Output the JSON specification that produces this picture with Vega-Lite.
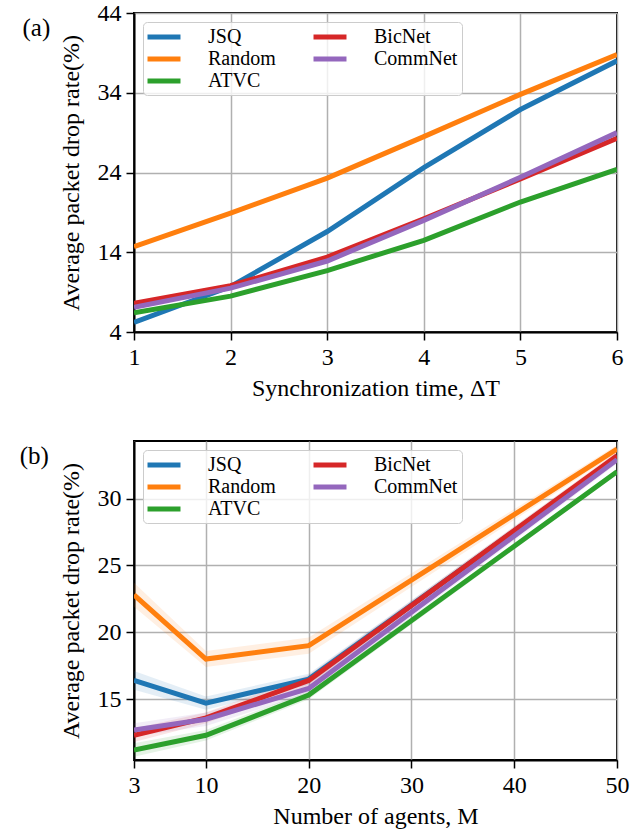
{
  "$schema": "https://vega.github.io/schema/vega-lite/v6.json",
  "padding": {"left": 18, "top": 0, "right": 5, "bottom": 5},
  "background": "white",
  "spacing": 39,
  "resolve": {"scale": {"color": "independent"}, "legend": {"color": "independent"}},
  "config": {
    "font": "Liberation Serif",
    "view": {"stroke": "black", "strokeWidth": 2},
    "axis": {
      "labelFont": "Liberation Serif", "labelFontSize": 24, "labelColor": "black",
      "titleFont": "Liberation Serif", "titleFontSize": 24, "titleFontWeight": "normal", "titleColor": "black",
      "tickColor": "black", "tickSize": 8, "tickWidth": 1.5,
      "domainColor": "black", "domainWidth": 2,
      "grid": true, "gridColor": "#b0b0b0", "gridWidth": 1.5,
      "labelPadding": 5, "labelFlush": false, "labelOverlap": false
    },
    "axisX": {"titlePadding": 7},
    "axisY": {"titlePadding": 14},
    "legend": {
      "orient": "top-left", "offset": 9, "columns": 2, "title": null,
      "labelFont": "Liberation Serif", "labelFontSize": 20, "labelColor": "black",
      "symbolType": "M-1.94,0H1.94", "symbolSize": 289, "symbolStrokeWidth": 5, "symbolOffset": 6,
      "fillColor": "rgba(255,255,255,0.8)", "strokeColor": "#cccccc", "cornerRadius": 4,
      "padding": 4, "rowPadding": 1, "columnPadding": 27, "labelOffset": 33
    },
    "title": {"font": "Liberation Serif", "fontSize": 25, "fontWeight": "normal", "color": "black"}
  },
  "datasets": {
    "a": [
      {"dt": 1, "series": "JSQ", "rate": 5.2}, {"dt": 2, "series": "JSQ", "rate": 9.7}, {"dt": 3, "series": "JSQ", "rate": 16.6}, {"dt": 4, "series": "JSQ", "rate": 24.6}, {"dt": 5, "series": "JSQ", "rate": 31.9}, {"dt": 6, "series": "JSQ", "rate": 38.0},
      {"dt": 1, "series": "Random", "rate": 14.7}, {"dt": 2, "series": "Random", "rate": 18.9}, {"dt": 3, "series": "Random", "rate": 23.3}, {"dt": 4, "series": "Random", "rate": 28.5}, {"dt": 5, "series": "Random", "rate": 33.8}, {"dt": 6, "series": "Random", "rate": 38.8},
      {"dt": 1, "series": "ATVC", "rate": 6.4}, {"dt": 2, "series": "ATVC", "rate": 8.5}, {"dt": 3, "series": "ATVC", "rate": 11.7}, {"dt": 4, "series": "ATVC", "rate": 15.5}, {"dt": 5, "series": "ATVC", "rate": 20.3}, {"dt": 6, "series": "ATVC", "rate": 24.4},
      {"dt": 1, "series": "BicNet", "rate": 7.6}, {"dt": 2, "series": "BicNet", "rate": 9.8}, {"dt": 3, "series": "BicNet", "rate": 13.4}, {"dt": 4, "series": "BicNet", "rate": 18.2}, {"dt": 5, "series": "BicNet", "rate": 23.2}, {"dt": 6, "series": "BicNet", "rate": 28.3},
      {"dt": 1, "series": "CommNet", "rate": 7.1}, {"dt": 2, "series": "CommNet", "rate": 9.5}, {"dt": 3, "series": "CommNet", "rate": 12.9}, {"dt": 4, "series": "CommNet", "rate": 18.0}, {"dt": 5, "series": "CommNet", "rate": 23.4}, {"dt": 6, "series": "CommNet", "rate": 29.0}
    ],
    "b": [
      {"M": 3, "series": "JSQ", "rate": 16.4, "lo": 15.7, "hi": 17.1}, {"M": 10, "series": "JSQ", "rate": 14.7, "lo": 14.2, "hi": 15.2}, {"M": 20, "series": "JSQ", "rate": 16.5, "lo": 16.1, "hi": 16.9}, {"M": 50, "series": "JSQ", "rate": 33.1, "lo": 32.8, "hi": 33.4},
      {"M": 3, "series": "Random", "rate": 22.8, "lo": 21.9, "hi": 23.7}, {"M": 10, "series": "Random", "rate": 18.0, "lo": 17.4, "hi": 18.6}, {"M": 20, "series": "Random", "rate": 19.0, "lo": 18.4, "hi": 19.6}, {"M": 50, "series": "Random", "rate": 33.7, "lo": 33.4, "hi": 34.0},
      {"M": 3, "series": "ATVC", "rate": 11.2, "lo": 10.7, "hi": 11.7}, {"M": 10, "series": "ATVC", "rate": 12.3, "lo": 11.9, "hi": 12.7}, {"M": 20, "series": "ATVC", "rate": 15.3, "lo": 15.0, "hi": 15.6}, {"M": 50, "series": "ATVC", "rate": 32.0, "lo": 31.8, "hi": 32.2},
      {"M": 3, "series": "BicNet", "rate": 12.3, "lo": 11.8, "hi": 12.8}, {"M": 10, "series": "BicNet", "rate": 13.6, "lo": 13.2, "hi": 14.0}, {"M": 20, "series": "BicNet", "rate": 16.4, "lo": 16.0, "hi": 16.8}, {"M": 50, "series": "BicNet", "rate": 33.2, "lo": 32.9, "hi": 33.5},
      {"M": 3, "series": "CommNet", "rate": 12.7, "lo": 12.2, "hi": 13.2}, {"M": 10, "series": "CommNet", "rate": 13.5, "lo": 13.0, "hi": 14.0}, {"M": 20, "series": "CommNet", "rate": 15.8, "lo": 15.4, "hi": 16.2}, {"M": 50, "series": "CommNet", "rate": 32.9, "lo": 32.6, "hi": 33.2}
    ]
  },
  "vconcat": [
    {
      "width": 483, "height": 319,
      "title": {"text": "(a)", "anchor": "end", "frame": "group", "orient": "left", "angle": 0, "align": "right", "baseline": "top", "offset": -19, "dy": 3},
      "data": {"name": "a"},
      "mark": {"type": "line", "strokeWidth": 5, "clip": true},
      "encoding": {
        "x": {"field": "dt", "type": "quantitative", "scale": {"domain": [1, 6], "nice": false},
              "axis": {"values": [1, 2, 3, 4, 5, 6], "format": "d", "title": "Synchronization time, ΔT"}},
        "y": {"field": "rate", "type": "quantitative", "scale": {"domain": [4, 44], "nice": false, "zero": false},
              "axis": {"values": [4, 14, 24, 34, 44], "format": "d", "title": "Average packet drop rate(%)"}},
        "color": {"field": "series", "type": "nominal",
                  "scale": {"domain": ["JSQ", "Random", "ATVC", "BicNet", "CommNet"], "range": ["#1f77b4", "#ff7f0e", "#2ca02c", "#d62728", "#9467bd"]}}
      }
    },
    {
      "width": 483, "height": 319,
      "title": {"text": "(b)", "anchor": "end", "frame": "group", "orient": "left", "angle": 0, "align": "right", "baseline": "top", "offset": -19, "dy": 3},
      "data": {"name": "b"},
      "encoding": {
        "x": {"field": "M", "type": "quantitative", "scale": {"domain": [3, 50], "nice": false},
              "axis": {"values": [3, 10, 20, 30, 40, 50], "format": "d", "title": "Number of agents, M"}}
      },
      "layer": [
        {
          "mark": {"type": "area", "opacity": 0.12, "clip": true},
          "encoding": {
            "y": {"field": "lo", "type": "quantitative", "scale": {"domain": [10.45, 34.3], "nice": false, "zero": false},
                  "axis": {"values": [15, 20, 25, 30], "format": "d", "title": "Average packet drop rate(%)"}},
            "y2": {"field": "hi"},
            "fill": {"field": "series", "type": "nominal", "legend": null,
                     "scale": {"domain": ["JSQ", "Random", "ATVC", "BicNet", "CommNet"], "range": ["#1f77b4", "#ff7f0e", "#2ca02c", "#d62728", "#9467bd"]}}
          }
        },
        {
          "mark": {"type": "line", "strokeWidth": 5, "clip": true},
          "encoding": {
            "y": {"field": "rate", "type": "quantitative"},
            "color": {"field": "series", "type": "nominal",
                      "scale": {"domain": ["JSQ", "Random", "ATVC", "BicNet", "CommNet"], "range": ["#1f77b4", "#ff7f0e", "#2ca02c", "#d62728", "#9467bd"]}}
          }
        }
      ]
    }
  ]
}
